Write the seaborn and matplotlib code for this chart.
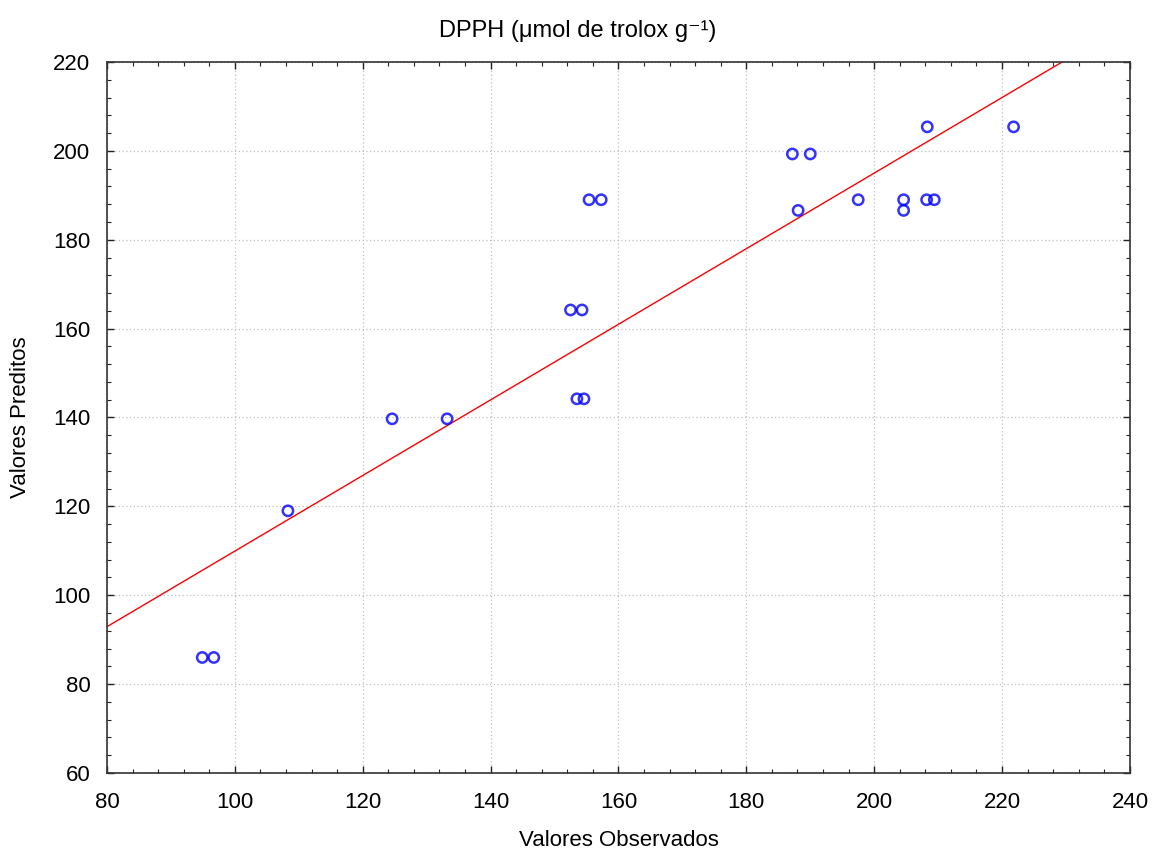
import matplotlib
matplotlib.use("Agg")
import matplotlib.pyplot as plt
import seaborn as sns
import numpy as np
import pandas as pd
from matplotlib.ticker import MultipleLocator

observados = [94.9, 96.7, 108.3, 124.6, 133.2, 152.5, 154.3, 153.5, 154.6, 155.4, 157.3,
              187.2, 190.0, 188.1, 197.5, 204.6, 204.6, 208.3, 208.2, 209.4, 221.8]
preditos = [86.0, 86.0, 119.0, 139.7, 139.7, 164.2, 164.2, 144.2, 144.2, 189.0, 189.0,
            199.3, 199.3, 186.6, 189.0, 189.0, 186.6, 205.4, 189.0, 189.0, 205.4]
x_ticks = [80, 100, 120, 140, 160, 180, 200, 220, 240]
y_ticks = [60, 80, 100, 120, 140, 160, 180, 200, 220]

df = pd.DataFrame({"obs": observados, "pred": preditos})

sns.set_theme(style="white")
plt.rcParams['font.family'] = ['Liberation Sans', 'DejaVu Sans']
plt.rcParams['text.color'] = 'black'
plt.rcParams['axes.labelcolor'] = 'black'

fig = plt.figure(figsize=(11.53, 8.55), dpi=100)
ax = fig.add_axes([0.0928, 0.0959, 0.8872, 0.8316])
ax.set_xlim(80, 240)
ax.set_ylim(60, 220)

sns.regplot(data=df, x="obs", y="pred", ax=ax, ci=None, truncate=False,
            scatter_kws=dict(facecolors="none", edgecolors="#0000ff", s=55, linewidths=1.8, zorder=3),
            line_kws=dict(color="#ff0000", lw=1.0, zorder=2))

ax.set_xlim(80, 240)
ax.set_ylim(60, 220)
ax.set_xticks(x_ticks)
ax.set_yticks(y_ticks)
ax.xaxis.set_minor_locator(MultipleLocator(4))
ax.yaxis.set_minor_locator(MultipleLocator(4))
ax.tick_params(which="both", direction="in", top=True, right=True, bottom=True, left=True,
               labeltop=False, labelright=False, color="#222222")
ax.tick_params(axis="x", which="major", length=5, width=1, labelsize=16, pad=14, labelcolor="black")
ax.tick_params(axis="y", which="major", length=5, width=1, labelsize=16, pad=12, labelcolor="black")
ax.tick_params(which="minor", length=3, width=0.8)
ax.grid(True, which="major", linestyle=(0, (1, 2)), color="#c0c0c0", linewidth=0.9)
for s in ax.spines.values():
    s.set_color("#333333")
    s.set_linewidth(1.2)

ax.set_xlabel("Valores Observados", fontsize=16, labelpad=12)
ax.set_ylabel("Valores Preditos", fontsize=16, labelpad=16)
ax.set_title("DPPH (μmol de trolox g\u207B\u00B9)", fontsize=17, pad=18, x=0.46)

fig.savefig("out.png", dpi=100, facecolor="white")
